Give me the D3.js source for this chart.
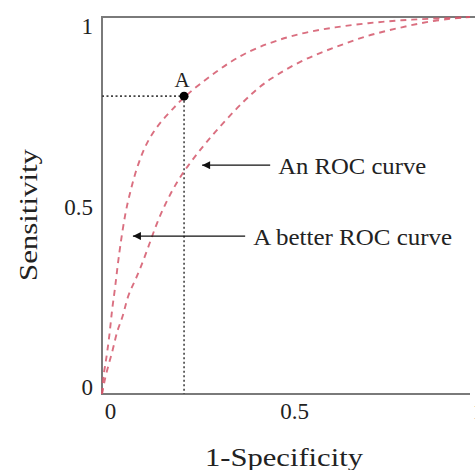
<!DOCTYPE html>
<html>
<head>
<meta charset="utf-8">
<script src="https://cdn.jsdelivr.net/npm/d3@7"></script>
<style>
  html, body { margin: 0; padding: 0; background: #fff; }
  svg { display: block; }
  text { font-family: "Liberation Serif", "Times New Roman", serif; fill: #222; }
</style>
</head>
<body>
<svg id="chart" width="475" height="470"></svg>
<script>
// ROC curves: false positive rate (1-specificity) vs true positive rate (sensitivity)
const rocFpr = [0, 0.011, 0.030, 0.041, 0.057, 0.068, 0.084, 0.103, 0.130, 0.149, 0.177, 0.207,
                0.231, 0.266, 0.307, 0.361, 0.408, 0.451, 0.543, 0.633, 0.723, 0.815, 0.905, 1];
const rocTpr = [0, 0.056, 0.117, 0.170, 0.204, 0.255, 0.289, 0.329, 0.401, 0.454, 0.515, 0.568,
                0.602, 0.647, 0.695, 0.753, 0.798, 0.833, 0.886, 0.920, 0.952, 0.973, 0.992, 1];

const betterFpr = [0, 0.003, 0.008, 0.014, 0.022, 0.027, 0.035, 0.041, 0.049, 0.063, 0.076, 0.090,
                   0.109, 0.130, 0.163, 0.198, 0.223, 0.356, 0.451, 0.543, 0.633, 0.723, 0.815, 0.905, 1];
const betterTpr = [0, 0.045, 0.072, 0.109, 0.170, 0.223, 0.276, 0.329, 0.390, 0.480, 0.533, 0.586,
                   0.639, 0.682, 0.727, 0.761, 0.790, 0.891, 0.931, 0.958, 0.973, 0.984, 0.992, 0.996, 1];

// Operating point A on the better curve
const pointA = { label: "A", fpr: 0.223, tpr: 0.790 };

// Callout labels: arrow tip (data coords), tail x, text
const callouts = [
  { text: "An ROC curve",       tipX: 0.272, tailX: 0.457, y: 0.607, width: 148 },
  { text: "A better ROC curve", tipX: 0.084, tailX: 0.389, y: 0.419, width: 199 }
];

const xTicks = [0, 0.5, 1];
const yTicks = [0, 0.5, 1];
const xTitle = "1-Specificity";
const yTitle = "Sensitivity";

const svg = d3.select("#chart");
const plotLeft = 102, plotRight = 470, plotTop = 17, plotBottom = 394;

const x = d3.scaleLinear().domain([0, 1]).range([plotLeft, plotRight]);
const y = d3.scaleLinear().domain([0, 1]).range([plotBottom, plotTop]);

// Axes (labels only; frame drawn separately)
const fmt = d => String(d);
const xAxis = svg.append("g")
  .attr("transform", `translate(0,${plotBottom})`)
  .call(d3.axisBottom(x).tickValues(xTicks).tickFormat(fmt).tickSize(0).tickPadding(9));
xAxis.select(".domain").remove();
xAxis.selectAll("text")
  .attr("font-size", 23).attr("fill", "#222")
  .attr("font-family", "Liberation Serif, serif")
  .attr("dx", 8);

const yAxis = svg.append("g")
  .attr("transform", `translate(${plotLeft},0)`)
  .call(d3.axisLeft(y).tickValues(yTicks).tickFormat(fmt).tickSize(0).tickPadding(9));
yAxis.select(".domain").remove();
const yNudge = v => v === 1 ? 9 : v === 0 ? -7 : 1.5;
yAxis.selectAll(".tick text")
  .attr("font-size", 23).attr("fill", "#222")
  .attr("font-family", "Liberation Serif, serif")
  .attr("dy", null)
  .attr("dominant-baseline", "central")
  .attr("y", d => yNudge(d));

// Frame
const frame = svg.append("g").attr("stroke", "#7a7a7a").attr("stroke-width", 2).attr("fill", "none");
frame.append("line").attr("x1", x(0)).attr("x2", x(0)).attr("y1", y(1)).attr("y2", y(0));
frame.append("line").attr("x1", x(0) - 1).attr("x2", 475).attr("y1", y(1)).attr("y2", y(1));
frame.append("line").attr("x1", x(0) - 1).attr("x2", x(1)).attr("y1", y(0)).attr("y2", y(0));

// Dotted guides to point A
const guides = svg.append("g").attr("stroke", "#444").attr("stroke-width", 1.6)
  .attr("stroke-dasharray", "2,2.5").attr("fill", "none");
guides.append("line").attr("x1", x(0)).attr("x2", x(pointA.fpr)).attr("y1", y(pointA.tpr)).attr("y2", y(pointA.tpr));
guides.append("line").attr("x1", x(pointA.fpr)).attr("x2", x(pointA.fpr)).attr("y1", y(pointA.tpr)).attr("y2", y(0));

// ROC curves
const line = d3.line().x(d => x(d[0])).y(d => y(d[1])).curve(d3.curveBasis);
const curves = [d3.zip(rocFpr, rocTpr), d3.zip(betterFpr, betterTpr)];
svg.append("g").selectAll("path").data(curves).join("path")
  .attr("d", line)
  .attr("fill", "none")
  .attr("stroke", "#d4566a")
  .attr("stroke-opacity", 0.85)
  .attr("stroke-width", 1.9)
  .attr("stroke-dasharray", "6,5");

// Point A
svg.append("circle").attr("cx", x(pointA.fpr)).attr("cy", y(pointA.tpr)).attr("r", 4.5).attr("fill", "#000");
svg.append("text").attr("x", x(pointA.fpr) - 2).attr("y", y(pointA.tpr) - 16)
  .attr("text-anchor", "middle").attr("dominant-baseline", "central")
  .attr("font-size", 21).text(pointA.label);

// Arrow callouts
svg.append("defs").append("marker")
  .attr("id", "arrowhead").attr("viewBox", "0 0 10 10")
  .attr("refX", 10).attr("refY", 5).attr("markerWidth", 11).attr("markerHeight", 8)
  .attr("markerUnits", "userSpaceOnUse").attr("orient", "auto")
  .append("path").attr("d", "M0,0 L10,5 L0,10 Z").attr("fill", "#111");

const co = svg.append("g").selectAll("g").data(callouts).join("g");
co.append("line")
  .attr("x1", d => x(d.tailX)).attr("x2", d => x(d.tipX))
  .attr("y1", d => y(d.y)).attr("y2", d => y(d.y))
  .attr("stroke", "#111").attr("stroke-width", 1.3)
  .attr("marker-end", "url(#arrowhead)");
co.append("text")
  .attr("x", d => x(d.tailX) + 8).attr("y", d => y(d.y) + 1)
  .attr("dominant-baseline", "central")
  .attr("font-size", 23)
  .attr("textLength", d => d.width).attr("lengthAdjust", "spacingAndGlyphs")
  .text(d => d.text);

// Axis titles
svg.append("text").attr("x", 284).attr("y", 457)
  .attr("text-anchor", "middle").attr("dominant-baseline", "central")
  .attr("font-size", 25).attr("textLength", 158).attr("lengthAdjust", "spacingAndGlyphs")
  .text(xTitle);
svg.append("text").attr("transform", "translate(28,215) rotate(-90)")
  .attr("text-anchor", "middle").attr("dominant-baseline", "central")
  .attr("font-size", 26).attr("textLength", 132).attr("lengthAdjust", "spacingAndGlyphs")
  .text(yTitle);
</script>
</body>
</html>
